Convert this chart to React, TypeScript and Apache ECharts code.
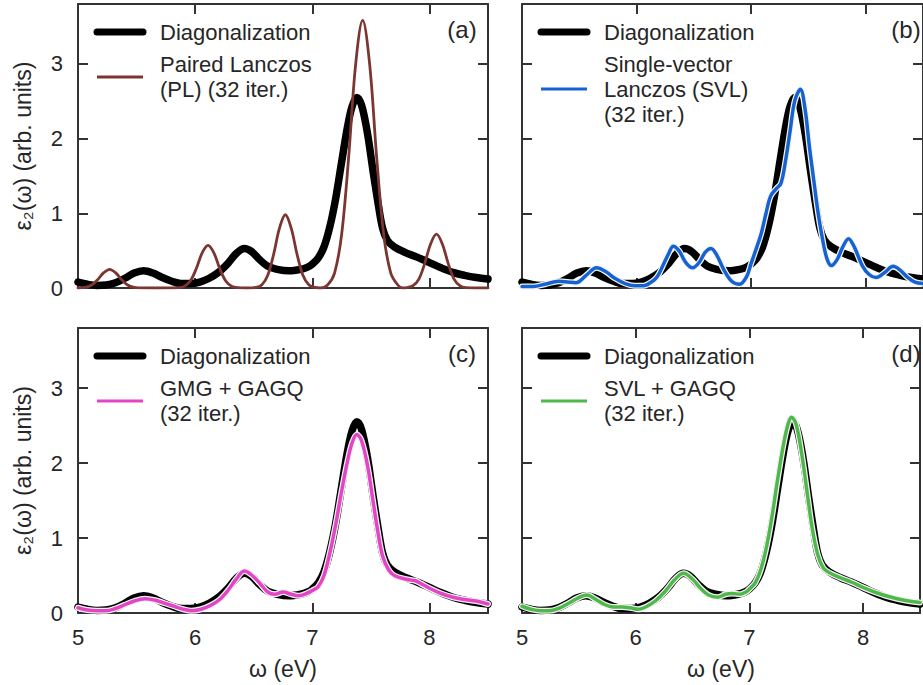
import React, { useEffect, useRef } from "react";
import * as echarts from "echarts";

// ω (eV), ε2 values
const diagonalization: [number, number][] = [
  [5.0, 0.08], [5.08, 0.05], [5.16, 0.035], [5.24, 0.04], [5.32, 0.07], [5.4, 0.13], [5.48, 0.2],
  [5.56, 0.23], [5.64, 0.2], [5.72, 0.14], [5.8, 0.09], [5.88, 0.06], [5.96, 0.06], [6.04, 0.08],
  [6.12, 0.13], [6.2, 0.21], [6.28, 0.33], [6.35, 0.46], [6.42, 0.53], [6.48, 0.49], [6.55, 0.38],
  [6.62, 0.29], [6.7, 0.25], [6.8, 0.23], [6.9, 0.25], [6.96, 0.28], [7.0, 0.32], [7.05, 0.4],
  [7.1, 0.55], [7.15, 0.82], [7.2, 1.2], [7.25, 1.68], [7.3, 2.15], [7.34, 2.43], [7.38, 2.55],
  [7.42, 2.45], [7.47, 2.08], [7.52, 1.55], [7.56, 1.15], [7.6, 0.8], [7.64, 0.64], [7.7, 0.55],
  [7.8, 0.47], [7.9, 0.41], [8.0, 0.34], [8.1, 0.27], [8.2, 0.21], [8.3, 0.17], [8.4, 0.14], [8.5, 0.12],
];

const pairedLanczos: [number, number][] = [
  [5.0, 0.0], [5.02, 0.002], [5.07, 0.011], [5.12, 0.043], [5.17, 0.115], [5.22, 0.205], [5.27, 0.25],
  [5.32, 0.205], [5.37, 0.115], [5.42, 0.043], [5.47, 0.011], [5.52, 0.002], [5.7, 0.0], [5.86, 0.004],
  [5.91, 0.025], [5.96, 0.097], [6.01, 0.26], [6.06, 0.47], [6.11, 0.57], [6.16, 0.47], [6.21, 0.26],
  [6.26, 0.097], [6.31, 0.025], [6.36, 0.004], [6.44, 0.0], [6.52, 0.007], [6.57, 0.043], [6.62, 0.17],
  [6.67, 0.45], [6.72, 0.8], [6.77, 0.98], [6.82, 0.8], [6.87, 0.45], [6.92, 0.17], [6.97, 0.043],
  [7.02, 0.007], [7.07, 0.0], [7.13, 0.04], [7.19, 0.2], [7.25, 0.71], [7.31, 1.74], [7.37, 2.99],
  [7.43, 3.58], [7.49, 2.99], [7.55, 1.74], [7.61, 0.71], [7.67, 0.2], [7.73, 0.04], [7.77, 0.0],
  [7.81, 0.005], [7.86, 0.032], [7.91, 0.12], [7.96, 0.33], [8.01, 0.59], [8.06, 0.72], [8.11, 0.59],
  [8.16, 0.33], [8.21, 0.12], [8.26, 0.032], [8.31, 0.005], [8.4, 0.0], [8.5, 0.0],
];

const singleVectorLanczos: [number, number][] = [
  [5.0, 0.02], [5.1, 0.02], [5.2, 0.05], [5.32, 0.09], [5.4, 0.08], [5.47, 0.07], [5.56, 0.17],
  [5.65, 0.27], [5.73, 0.22], [5.81, 0.13], [5.9, 0.06], [5.98, 0.03], [6.06, 0.03], [6.13, 0.08],
  [6.18, 0.15], [6.23, 0.3], [6.28, 0.46], [6.32, 0.56], [6.37, 0.5], [6.43, 0.34], [6.49, 0.27],
  [6.55, 0.35], [6.6, 0.48], [6.65, 0.53], [6.7, 0.44], [6.76, 0.25], [6.83, 0.09], [6.9, 0.05],
  [6.96, 0.15], [7.0, 0.33], [7.05, 0.55], [7.09, 0.74], [7.13, 1.0], [7.17, 1.23], [7.22, 1.33],
  [7.26, 1.4], [7.3, 1.7], [7.34, 2.1], [7.38, 2.5], [7.43, 2.66], [7.47, 2.4], [7.51, 1.87],
  [7.55, 1.4], [7.58, 1.05], [7.62, 0.68], [7.66, 0.4], [7.7, 0.3], [7.75, 0.38], [7.8, 0.55],
  [7.85, 0.66], [7.9, 0.55], [7.97, 0.3], [8.03, 0.18], [8.09, 0.14], [8.16, 0.2], [8.24, 0.29],
  [8.3, 0.24], [8.36, 0.15], [8.43, 0.08], [8.5, 0.06],
];

const gmgGagq: [number, number][] = [
  [5.0, 0.07], [5.08, 0.04], [5.16, 0.03], [5.24, 0.03], [5.32, 0.06], [5.4, 0.11], [5.48, 0.16],
  [5.57, 0.19], [5.66, 0.17], [5.74, 0.13], [5.82, 0.09], [5.9, 0.05], [5.97, 0.03], [6.05, 0.05],
  [6.13, 0.1], [6.21, 0.18], [6.28, 0.3], [6.35, 0.45], [6.42, 0.56], [6.48, 0.51], [6.55, 0.4],
  [6.62, 0.28], [6.68, 0.25], [6.75, 0.28], [6.82, 0.25], [6.88, 0.23], [6.95, 0.26], [7.0, 0.3],
  [7.05, 0.35], [7.1, 0.5], [7.15, 0.8], [7.2, 1.18], [7.25, 1.62], [7.3, 2.02], [7.34, 2.27],
  [7.38, 2.38], [7.42, 2.3], [7.47, 1.98], [7.52, 1.48], [7.56, 1.08], [7.6, 0.76], [7.65, 0.58],
  [7.7, 0.5], [7.8, 0.45], [7.88, 0.43], [7.93, 0.39], [8.0, 0.33], [8.1, 0.26], [8.2, 0.21],
  [8.3, 0.18], [8.4, 0.16], [8.5, 0.12],
];

const svlGagq: [number, number][] = [
  [5.0, 0.09], [5.08, 0.05], [5.16, 0.03], [5.24, 0.03], [5.32, 0.06], [5.4, 0.12], [5.48, 0.19],
  [5.57, 0.24], [5.65, 0.18], [5.73, 0.11], [5.8, 0.08], [5.88, 0.08], [5.95, 0.07], [6.02, 0.05],
  [6.1, 0.09], [6.18, 0.17], [6.26, 0.29], [6.34, 0.44], [6.42, 0.53], [6.5, 0.45], [6.57, 0.33],
  [6.64, 0.24], [6.72, 0.21], [6.79, 0.25], [6.85, 0.26], [6.92, 0.25], [6.97, 0.28], [7.0, 0.32],
  [7.05, 0.4], [7.1, 0.58], [7.15, 0.88], [7.2, 1.3], [7.25, 1.8], [7.3, 2.25], [7.34, 2.52],
  [7.37, 2.61], [7.41, 2.52], [7.46, 2.12], [7.51, 1.58], [7.55, 1.15], [7.6, 0.78], [7.65, 0.6],
  [7.7, 0.54], [7.8, 0.47], [7.9, 0.41], [8.0, 0.34], [8.1, 0.28], [8.2, 0.23], [8.3, 0.19],
  [8.4, 0.16], [8.5, 0.14],
];

const panelLabels = ["(a)", "(b)", "(c)", "(d)"];
const diagName = "Diagonalization";
const methodNames = [
  ["Paired Lanczos", "(PL) (32 iter.)"],
  ["Single-vector", "Lanczos (SVL)", "(32 iter.)"],
  ["GMG + GAGQ", "(32 iter.)"],
  ["SVL + GAGQ", "(32 iter.)"],
];
const methodData = [pairedLanczos, singleVectorLanczos, gmgGagq, svlGagq];
const methodColors = ["#7c3631", "#1562d2", "#e444c6", "#4fb84b"];
const methodHalo = [false, true, true, true];

const X_MIN = 5;
const X_MAX = 8.5;
const Y_MIN = 0;
const Y_MAX = 3.8;

const FONT = "'Liberation Sans', Arial, Helvetica, sans-serif";
const TEXT_COLOR = "#262626";
const FRAME = "#333333";

export default function App() {
  const ref = useRef<HTMLDivElement>(null);

  useEffect(() => {
    document.body.style.margin = "0";
    if (!ref.current) return;
    const chart = echarts.init(ref.current, undefined, { renderer: "svg" });

    const grids = [
      { left: 78, top: 4, width: 410, height: 284 },
      { left: 522, top: 4, width: 410, height: 284 },
      { left: 78, top: 328, width: 410, height: 285 },
      { left: 522, top: 328, width: 410, height: 285 },
    ];

    const xAxes: any[] = [];
    const yAxes: any[] = [];
    const series: any[] = [];
    const graphics: any[] = [];

    const intLabel = (v: number) => (Math.abs(v - Math.round(v)) < 1e-9 ? String(Math.round(v)) : "");

    grids.forEach((g, i) => {
      const bottomRow = i >= 2;
      const leftCol = i % 2 === 0;
      const tick = { show: true, inside: true, length: 10, lineStyle: { color: FRAME, width: 2 } };
      const line = { show: true, onZero: false, lineStyle: { color: FRAME, width: 2 } };
      xAxes.push({
        type: "value", gridIndex: i, position: "bottom", min: X_MIN, max: X_MAX, interval: 1,
        axisLine: line, axisTick: tick, splitLine: { show: false },
        axisLabel: { show: bottomRow, formatter: intLabel, fontSize: 22, color: TEXT_COLOR, fontFamily: FONT, margin: 13 },
        name: bottomRow ? "ω (eV)" : "", nameLocation: "middle", nameGap: 44,
        nameTextStyle: { fontSize: 23, color: TEXT_COLOR, fontFamily: FONT },
      });
      xAxes.push({
        type: "value", gridIndex: i, position: "top", min: X_MIN, max: X_MAX, interval: 1,
        axisLine: line, axisTick: tick, splitLine: { show: false }, axisLabel: { show: false },
      });
      yAxes.push({
        type: "value", gridIndex: i, position: "left", min: Y_MIN, max: Y_MAX, interval: 1,
        axisLine: line, axisTick: tick, splitLine: { show: false },
        axisLabel: { show: leftCol, formatter: intLabel, fontSize: 22, color: TEXT_COLOR, fontFamily: FONT, margin: 15 },
        name: leftCol ? "ε₂(ω) (arb. units)" : "", nameLocation: "middle", nameGap: 44, nameRotate: 90,
        nameTextStyle: { fontSize: 23, color: TEXT_COLOR, fontFamily: FONT },
      });
      yAxes.push({
        type: "value", gridIndex: i, position: "right", min: Y_MIN, max: Y_MAX, interval: 1,
        axisLine: line, axisTick: tick, splitLine: { show: false }, axisLabel: { show: false },
      });

      series.push({
        type: "line", name: diagName, xAxisIndex: 2 * i, yAxisIndex: 2 * i, data: diagonalization,
        showSymbol: false, smooth: 0.35, lineStyle: { color: "#000", width: 7.5, cap: "round", join: "round" },
        z: 2,
      });
      if (methodHalo[i]) {
        series.push({
          type: "line", name: methodNames[i].join(" ") + " outline", xAxisIndex: 2 * i, yAxisIndex: 2 * i,
          data: methodData[i], showSymbol: false, smooth: 0.35,
          lineStyle: { color: "#f4f4f4", width: 6, cap: "round", join: "round" }, z: 3,
        });
      }
      series.push({
        type: "line", name: methodNames[i].join(" "), xAxisIndex: 2 * i, yAxisIndex: 2 * i,
        data: methodData[i], showSymbol: false, smooth: 0.35,
        lineStyle: { color: methodColors[i], width: methodHalo[i] ? 3.5 : 2.8, cap: "round", join: "round" },
        z: 4,
      });

      // legend and panel label
      const dx = leftCol ? 0 : 444;
      const dy = bottomRow ? 324 : 0;
      const textStyle = (t: string, x: number, y: number, align = "left", size = 22) => ({
        type: "text", x, y,
        style: { text: t, fill: TEXT_COLOR, font: `${size}px ${FONT}`, textAlign: align, textVerticalAlign: "middle" },
      });
      graphics.push({
        type: "line", shape: { x1: 97 + dx, y1: 32 + dy, x2: 143 + dx, y2: 32 + dy },
        style: { stroke: "#000", lineWidth: 7, lineCap: "round" },
      });
      graphics.push(textStyle(diagName, 160 + dx, 32 + dy));
      const lines = methodNames[i];
      const firstY = 64 + dy;
      lines.forEach((t, k) => graphics.push(textStyle(t, 160 + dx, firstY + k * 25)));
      const sampleY = lines.length === 3 ? firstY + 25 : firstY + 13;
      graphics.push({
        type: "line", shape: { x1: 97 + dx, y1: sampleY, x2: 143 + dx, y2: sampleY },
        style: { stroke: methodColors[i], lineWidth: 3 },
      });
      graphics.push(textStyle(panelLabels[i], 462 + dx, 29 + dy, "center", 24));
    });

    chart.setOption({
      animation: false,
      backgroundColor: "#ffffff",
      grid: grids.map((g) => ({ ...g, containLabel: false })),
      xAxis: xAxes,
      yAxis: yAxes,
      series,
      graphic: graphics,
    });

    return () => chart.dispose();
  }, []);

  return <div ref={ref} style={{ width: 923, height: 685 }} />;
}
